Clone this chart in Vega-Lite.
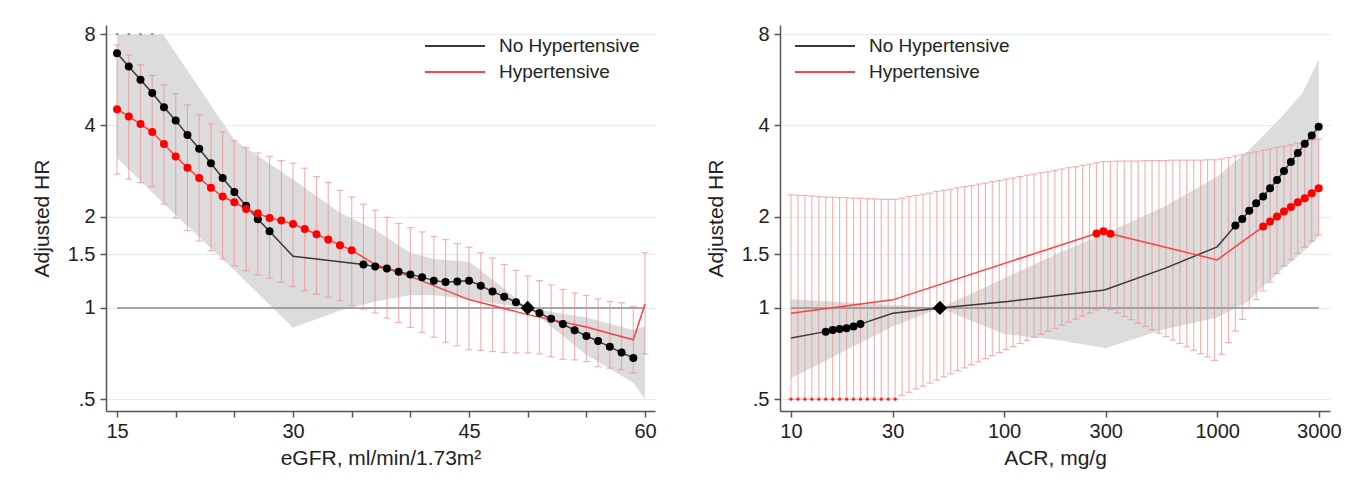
{
  "$schema": "https://vega.github.io/schema/vega-lite/v6.json",
  "background": "white",
  "padding": {"left": 31, "top": 24, "right": 5, "bottom": 5},
  "spacing": 48,
  "config": {
    "font": "Liberation Sans",
    "view": {"stroke": null},
    "axis": {
      "labelFont": "Liberation Sans", "titleFont": "Liberation Sans",
      "labelFontSize": 20, "titleFontSize": 21, "titleFontWeight": "normal",
      "labelColor": "#222", "titleColor": "#222",
      "domainColor": "#555", "domainWidth": 1.5,
      "tickColor": "#555", "tickWidth": 1.5, "tickSize": 6,
      "gridColor": "#e4ecee", "gridWidth": 1, "labelFlush": false
    },
    "axisY": {"labelPadding": 5, "titlePadding": 15},
    "axisX": {"labelPadding": 4, "titlePadding": 6, "grid": false}
  },
  "resolve": {"scale": {"color": "independent"}, "legend": {"color": "independent"}},
  "datasets": {
    "egfr_line": [
      {"x":15,"y":6.92,"s":"No Hypertensive","dot":1},{"x":16,"y":6.25,"s":"No Hypertensive","dot":1},{"x":17,"y":5.65,"s":"No Hypertensive","dot":1},{"x":18,"y":5.11,"s":"No Hypertensive","dot":1},{"x":19,"y":4.59,"s":"No Hypertensive","dot":1},{"x":20,"y":4.15,"s":"No Hypertensive","dot":1},{"x":21,"y":3.72,"s":"No Hypertensive","dot":1},{"x":22,"y":3.35,"s":"No Hypertensive","dot":1},{"x":23,"y":3.0,"s":"No Hypertensive","dot":1},{"x":24,"y":2.68,"s":"No Hypertensive","dot":1},{"x":25,"y":2.41,"s":"No Hypertensive","dot":1},{"x":26,"y":2.17,"s":"No Hypertensive","dot":1},{"x":27,"y":1.96,"s":"No Hypertensive","dot":1},{"x":28,"y":1.79,"s":"No Hypertensive","dot":1},{"x":30,"y":1.48,"s":"No Hypertensive","dot":0},{"x":36,"y":1.39,"s":"No Hypertensive","dot":1},{"x":37,"y":1.368,"s":"No Hypertensive","dot":1},{"x":38,"y":1.348,"s":"No Hypertensive","dot":1},{"x":39,"y":1.317,"s":"No Hypertensive","dot":1},{"x":40,"y":1.288,"s":"No Hypertensive","dot":1},{"x":41,"y":1.263,"s":"No Hypertensive","dot":1},{"x":42,"y":1.23,"s":"No Hypertensive","dot":1},{"x":43,"y":1.218,"s":"No Hypertensive","dot":1},{"x":44,"y":1.222,"s":"No Hypertensive","dot":1},{"x":45,"y":1.23,"s":"No Hypertensive","dot":1},{"x":46,"y":1.184,"s":"No Hypertensive","dot":1},{"x":47,"y":1.132,"s":"No Hypertensive","dot":1},{"x":48,"y":1.089,"s":"No Hypertensive","dot":1},{"x":49,"y":1.044,"s":"No Hypertensive","dot":1},{"x":50,"y":1.0,"s":"No Hypertensive","dot":1},{"x":51,"y":0.961,"s":"No Hypertensive","dot":1},{"x":52,"y":0.92,"s":"No Hypertensive","dot":1},{"x":53,"y":0.884,"s":"No Hypertensive","dot":1},{"x":54,"y":0.844,"s":"No Hypertensive","dot":1},{"x":55,"y":0.808,"s":"No Hypertensive","dot":1},{"x":56,"y":0.777,"s":"No Hypertensive","dot":1},{"x":57,"y":0.744,"s":"No Hypertensive","dot":1},{"x":58,"y":0.712,"s":"No Hypertensive","dot":1},{"x":59,"y":0.684,"s":"No Hypertensive","dot":1},
      {"x":15,"y":4.52,"s":"Hypertensive","dot":1},{"x":16,"y":4.28,"s":"Hypertensive","dot":1},{"x":17,"y":4.04,"s":"Hypertensive","dot":1},{"x":18,"y":3.8,"s":"Hypertensive","dot":1},{"x":19,"y":3.47,"s":"Hypertensive","dot":1},{"x":20,"y":3.16,"s":"Hypertensive","dot":1},{"x":21,"y":2.9,"s":"Hypertensive","dot":1},{"x":22,"y":2.68,"s":"Hypertensive","dot":1},{"x":23,"y":2.49,"s":"Hypertensive","dot":1},{"x":24,"y":2.33,"s":"Hypertensive","dot":1},{"x":25,"y":2.23,"s":"Hypertensive","dot":1},{"x":26,"y":2.12,"s":"Hypertensive","dot":1},{"x":27,"y":2.05,"s":"Hypertensive","dot":1},{"x":28,"y":1.98,"s":"Hypertensive","dot":1},{"x":29,"y":1.94,"s":"Hypertensive","dot":1},{"x":30,"y":1.89,"s":"Hypertensive","dot":1},{"x":31,"y":1.82,"s":"Hypertensive","dot":1},{"x":32,"y":1.75,"s":"Hypertensive","dot":1},{"x":33,"y":1.68,"s":"Hypertensive","dot":1},{"x":34,"y":1.61,"s":"Hypertensive","dot":1},{"x":35,"y":1.55,"s":"Hypertensive","dot":1},{"x":37,"y":1.39,"s":"Hypertensive","dot":0},{"x":40,"y":1.27,"s":"Hypertensive","dot":0},{"x":45,"y":1.065,"s":"Hypertensive","dot":0},{"x":50,"y":0.95,"s":"Hypertensive","dot":0},{"x":55,"y":0.865,"s":"Hypertensive","dot":0},{"x":59,"y":0.785,"s":"Hypertensive","dot":0},{"x":60,"y":1.03,"s":"Hypertensive","dot":0}
    ],
    "egfr_band": [
      {"x":15,"y":3.12,"y2":8},{"x":18.9,"y":2.22,"y2":8},{"x":25,"y":1.33,"y2":3.58},{"x":30,"y":0.86,"y2":2.65},{"x":34,"y":0.98,"y2":2.06},{"x":37,"y":1.05,"y2":1.81},{"x":40,"y":1.1,"y2":1.52},{"x":42,"y":1.1,"y2":1.45},{"x":45,"y":1.07,"y2":1.42},{"x":47.5,"y":1.03,"y2":1.2},{"x":50,"y":1.0,"y2":1.0},{"x":55,"y":0.7,"y2":0.93},{"x":59,"y":0.566,"y2":0.846},{"x":60,"y":0.5,"y2":0.87}
    ],
    "egfr_ci": [
      {"x":15,"y":2.76,"y2":7.37},{"x":16,"y":2.66,"y2":6.83},{"x":17,"y":2.59,"y2":6.33},{"x":18,"y":2.51,"y2":5.84},{"x":19,"y":2.2,"y2":5.44},{"x":20,"y":1.98,"y2":5.08},{"x":21,"y":1.8,"y2":4.67},{"x":22,"y":1.66,"y2":4.33},{"x":23,"y":1.545,"y2":4.04},{"x":24,"y":1.45,"y2":3.8},{"x":25,"y":1.375,"y2":3.56},{"x":26,"y":1.327,"y2":3.38},{"x":27,"y":1.285,"y2":3.24},{"x":28,"y":1.253,"y2":3.16},{"x":29,"y":1.216,"y2":3.06},{"x":30,"y":1.176,"y2":3.0},{"x":31,"y":1.14,"y2":2.89},{"x":32,"y":1.11,"y2":2.71},{"x":33,"y":1.085,"y2":2.59},{"x":34,"y":1.057,"y2":2.44},{"x":35,"y":1.018,"y2":2.32},{"x":36,"y":0.99,"y2":2.2},{"x":37,"y":0.963,"y2":2.1},{"x":38,"y":0.925,"y2":1.99},{"x":39,"y":0.895,"y2":1.9},{"x":40,"y":0.862,"y2":1.84},{"x":41,"y":0.83,"y2":1.78},{"x":42,"y":0.8,"y2":1.72},{"x":43,"y":0.77,"y2":1.68},{"x":44,"y":0.75,"y2":1.63},{"x":45,"y":0.727,"y2":1.585},{"x":46,"y":0.724,"y2":1.52},{"x":47,"y":0.718,"y2":1.46},{"x":48,"y":0.713,"y2":1.39},{"x":49,"y":0.71,"y2":1.33},{"x":50,"y":0.71,"y2":1.275},{"x":51,"y":0.705,"y2":1.23},{"x":52,"y":0.69,"y2":1.19},{"x":53,"y":0.677,"y2":1.15},{"x":54,"y":0.674,"y2":1.12},{"x":55,"y":0.665,"y2":1.1},{"x":56,"y":0.64,"y2":1.07},{"x":57,"y":0.633,"y2":1.05},{"x":58,"y":0.625,"y2":1.04},{"x":59,"y":0.61,"y2":1.01},{"x":60,"y":0.705,"y2":1.52}
    ],
    "egfr_ref": [{"x":15,"x2":60,"y":1}],
    "egfr_cap": [{"x":15,"y":8},{"x":16,"y":8},{"x":17,"y":8},{"x":18,"y":8}],
    "egfr_refpt": [{"x":50,"y":1}],
    "acr_line": [
      {"x":10,"y":0.795,"s":"No Hypertensive","dot":0},{"x":14.55,"y":0.835,"s":"No Hypertensive","dot":1},{"x":15.69,"y":0.846,"s":"No Hypertensive","dot":1},{"x":16.91,"y":0.852,"s":"No Hypertensive","dot":1},{"x":18.23,"y":0.857,"s":"No Hypertensive","dot":1},{"x":19.65,"y":0.868,"s":"No Hypertensive","dot":1},{"x":21.18,"y":0.884,"s":"No Hypertensive","dot":1},{"x":30,"y":0.96,"s":"No Hypertensive","dot":0},{"x":50,"y":1.0,"s":"No Hypertensive","dot":0},{"x":104,"y":1.049,"s":"No Hypertensive","dot":0},{"x":296,"y":1.146,"s":"No Hypertensive","dot":0},{"x":568,"y":1.35,"s":"No Hypertensive","dot":0},{"x":1000,"y":1.59,"s":"No Hypertensive","dot":0},{"x":1218,"y":1.87,"s":"No Hypertensive","dot":1},{"x":1312,"y":1.965,"s":"No Hypertensive","dot":1},{"x":1415,"y":2.09,"s":"No Hypertensive","dot":1},{"x":1525,"y":2.215,"s":"No Hypertensive","dot":1},{"x":1644,"y":2.33,"s":"No Hypertensive","dot":1},{"x":1772,"y":2.48,"s":"No Hypertensive","dot":1},{"x":1910,"y":2.64,"s":"No Hypertensive","dot":1},{"x":2059,"y":2.83,"s":"No Hypertensive","dot":1},{"x":2219,"y":3.03,"s":"No Hypertensive","dot":1},{"x":2392,"y":3.24,"s":"No Hypertensive","dot":1},{"x":2578,"y":3.48,"s":"No Hypertensive","dot":1},{"x":2779,"y":3.7,"s":"No Hypertensive","dot":1},{"x":2996,"y":3.96,"s":"No Hypertensive","dot":1},
      {"x":10,"y":0.96,"s":"Hypertensive","dot":0},{"x":30,"y":1.063,"s":"Hypertensive","dot":0},{"x":271.5,"y":1.76,"s":"Hypertensive","dot":1},{"x":292.7,"y":1.79,"s":"Hypertensive","dot":1},{"x":315.5,"y":1.755,"s":"Hypertensive","dot":1},{"x":1000,"y":1.44,"s":"Hypertensive","dot":0},{"x":1644,"y":1.855,"s":"Hypertensive","dot":1},{"x":1772,"y":1.926,"s":"Hypertensive","dot":1},{"x":1910,"y":2.0,"s":"Hypertensive","dot":1},{"x":2059,"y":2.08,"s":"Hypertensive","dot":1},{"x":2219,"y":2.15,"s":"Hypertensive","dot":1},{"x":2392,"y":2.23,"s":"Hypertensive","dot":1},{"x":2578,"y":2.3,"s":"Hypertensive","dot":1},{"x":2779,"y":2.39,"s":"Hypertensive","dot":1},{"x":2996,"y":2.48,"s":"Hypertensive","dot":1}
    ],
    "acr_band": [
      {"x":10,"y":0.586,"y2":1.068},{"x":30,"y":0.868,"y2":1.023},{"x":50,"y":1.0,"y2":1.0},{"x":100,"y":0.82,"y2":1.25},{"x":178,"y":0.784,"y2":1.51},{"x":300,"y":0.736,"y2":1.76},{"x":566,"y":0.85,"y2":2.16},{"x":1000,"y":0.93,"y2":2.71},{"x":1400,"y":1.05,"y2":3.3},{"x":1690,"y":1.2,"y2":3.77},{"x":2000,"y":1.33,"y2":4.25},{"x":2510,"y":1.52,"y2":5.1},{"x":3000,"y":1.72,"y2":6.58}
    ],
    "acr_ci": [
      {"x":10,"y":0.5,"y2":2.36},{"x":10.78,"y":0.5,"y2":2.35},{"x":11.62,"y":0.5,"y2":2.35},{"x":12.52,"y":0.5,"y2":2.34},{"x":13.5,"y":0.5,"y2":2.33},{"x":14.55,"y":0.5,"y2":2.32},{"x":15.69,"y":0.5,"y2":2.32},{"x":16.91,"y":0.5,"y2":2.31},{"x":18.23,"y":0.5,"y2":2.31},{"x":19.65,"y":0.5,"y2":2.3},{"x":21.18,"y":0.5,"y2":2.3},{"x":22.83,"y":0.5,"y2":2.29},{"x":24.61,"y":0.5,"y2":2.29},{"x":26.52,"y":0.5,"y2":2.28},{"x":28.59,"y":0.5,"y2":2.28},{"x":30.82,"y":0.5,"y2":2.28},
      {"x":33.22,"y":0.515,"y2":2.3},{"x":35.81,"y":0.527,"y2":2.33},{"x":38.6,"y":0.54,"y2":2.35},{"x":41.6,"y":0.552,"y2":2.37},{"x":44.85,"y":0.565,"y2":2.39},{"x":48.34,"y":0.578,"y2":2.42},{"x":52.11,"y":0.592,"y2":2.44},{"x":56.17,"y":0.606,"y2":2.46},{"x":60.54,"y":0.62,"y2":2.49},{"x":65.26,"y":0.634,"y2":2.51},{"x":70.35,"y":0.649,"y2":2.53},{"x":75.83,"y":0.664,"y2":2.56},{"x":81.74,"y":0.68,"y2":2.58},{"x":88.11,"y":0.696,"y2":2.61},{"x":94.97,"y":0.712,"y2":2.63},{"x":102.4,"y":0.729,"y2":2.66},{"x":110.3,"y":0.745,"y2":2.68},{"x":118.9,"y":0.763,"y2":2.71},{"x":128.2,"y":0.781,"y2":2.74},{"x":138.2,"y":0.799,"y2":2.76},{"x":149,"y":0.818,"y2":2.79},{"x":160.6,"y":0.837,"y2":2.81},{"x":173.1,"y":0.856,"y2":2.84},{"x":186.6,"y":0.876,"y2":2.87},{"x":201.1,"y":0.897,"y2":2.9},{"x":216.8,"y":0.918,"y2":2.92},{"x":233.7,"y":0.939,"y2":2.95},{"x":251.9,"y":0.961,"y2":2.98},{"x":271.5,"y":0.983,"y2":3.01},{"x":292.7,"y":1.006,"y2":3.04},
      {"x":315.5,"y":0.988,"y2":3.04},{"x":340,"y":0.963,"y2":3.05},{"x":366.5,"y":0.938,"y2":3.05},{"x":395.1,"y":0.914,"y2":3.05},{"x":425.9,"y":0.891,"y2":3.05},{"x":459.1,"y":0.868,"y2":3.06},{"x":494.8,"y":0.846,"y2":3.06},{"x":533.4,"y":0.825,"y2":3.06},{"x":574.9,"y":0.804,"y2":3.06},{"x":619.7,"y":0.783,"y2":3.07},{"x":668,"y":0.763,"y2":3.07},{"x":720.1,"y":0.744,"y2":3.07},{"x":776.2,"y":0.725,"y2":3.07},{"x":836.7,"y":0.706,"y2":3.07},{"x":901.8,"y":0.689,"y2":3.08},{"x":972.1,"y":0.671,"y2":3.08},
      {"x":1048,"y":0.703,"y2":3.1},{"x":1130,"y":0.768,"y2":3.13},{"x":1218,"y":0.839,"y2":3.17},{"x":1312,"y":0.916,"y2":3.2},{"x":1415,"y":0.997,"y2":3.24},{"x":1525,"y":1.065,"y2":3.27},{"x":1644,"y":1.138,"y2":3.31},{"x":1772,"y":1.216,"y2":3.34},{"x":1910,"y":1.299,"y2":3.38},{"x":2059,"y":1.377,"y2":3.41},{"x":2219,"y":1.443,"y2":3.45},{"x":2392,"y":1.512,"y2":3.49},{"x":2578,"y":1.584,"y2":3.52},{"x":2779,"y":1.66,"y2":3.56},{"x":2996,"y":1.74,"y2":3.6}
    ],
    "acr_floor": [
      {"x":10,"y":0.5},{"x":10.78,"y":0.5},{"x":11.62,"y":0.5},{"x":12.52,"y":0.5},{"x":13.5,"y":0.5},{"x":14.55,"y":0.5},{"x":15.69,"y":0.5},{"x":16.91,"y":0.5},{"x":18.23,"y":0.5},{"x":19.65,"y":0.5},{"x":21.18,"y":0.5},{"x":22.83,"y":0.5},{"x":24.61,"y":0.5},{"x":26.52,"y":0.5},{"x":28.59,"y":0.5},{"x":30.82,"y":0.5}
    ],
    "acr_ref": [{"x":10,"x2":3000,"y":1}],
    "acr_refpt": [{"x":50,"y":1}]
  },
  "hconcat": [
    {
      "width": 549, "height": 386,
      "encoding": {
        "x": {"field": "x", "type": "quantitative", "scale": {"domain": [14.06, 60.85], "nice": false, "zero": false},
              "axis": {"title": "eGFR, ml/min/1.73m²", "grid": false, "values": [15,20,25,30,35,40,45,50,55,60], "labelExpr": "datum.value % 15 === 0 ? '' + datum.value : ''"}},
        "y": {"field": "y", "type": "quantitative", "scale": {"type": "log", "domain": [0.457, 8.57], "nice": false},
              "axis": {"title": "Adjusted HR", "values": [0.5,1,1.5,2,4,8], "labelExpr": "datum.value === 0.5 ? '.5' : '' + datum.value", "grid": true}}
      },
      "layer": [
        {"data": {"name": "egfr_band"}, "mark": {"type": "area", "color": "#dcdcdc", "opacity": 1}, "encoding": {"y2": {"field": "y2"}}},
        {"data": {"name": "egfr_ref"}, "mark": {"type": "rule", "color": "#8c8c8c", "strokeWidth": 1.5}, "encoding": {"x2": {"field": "x2"}}},
        {"data": {"name": "egfr_ci"}, "mark": {"type": "errorbar", "ticks": true, "size": 7, "thickness": 1.2, "color": "#f08c8c", "opacity": 0.65}, "encoding": {"y2": {"field": "y2"}}},
        {"data": {"name": "egfr_cap"}, "mark": {"type": "circle", "color": "#999999", "size": 8, "opacity": 1}},
        {"data": {"name": "egfr_line"}, "mark": {"type": "line", "strokeWidth": 1.5},
         "encoding": {"color": {"field": "s", "type": "nominal", "scale": {"domain": ["No Hypertensive", "Hypertensive"], "range": ["#3a3a3a", "#ff4040"]},
           "legend": {"orient": "none", "legendX": 318, "legendY": 8, "title": null, "symbolType": "stroke", "symbolSize": 3600, "symbolStrokeWidth": 2, "labelFontSize": 19, "labelOffset": 13, "clipHeight": 26, "rowPadding": 0, "padding": 0, "labelColor": "#222", "labelFont": "Liberation Sans"}}}},
        {"data": {"name": "egfr_line"}, "transform": [{"filter": "datum.dot == 1 && datum.s == 'No Hypertensive'"}], "mark": {"type": "circle", "color": "#000000", "size": 64, "opacity": 1}},
        {"data": {"name": "egfr_line"}, "transform": [{"filter": "datum.dot == 1 && datum.s == 'Hypertensive'"}], "mark": {"type": "circle", "color": "#ff0000", "size": 64, "opacity": 1}},
        {"data": {"name": "egfr_refpt"}, "mark": {"type": "point", "shape": "diamond", "filled": true, "color": "#000000", "size": 200, "opacity": 1}}
      ]
    },
    {
      "width": 550, "height": 386,
      "encoding": {
        "x": {"field": "x", "type": "quantitative", "scale": {"type": "log", "domain": [8.88, 3386], "nice": false},
              "axis": {"title": "ACR, mg/g", "grid": false, "values": [10,30,100,300,1000,3000], "labelExpr": "'' + datum.value"}},
        "y": {"field": "y", "type": "quantitative", "scale": {"type": "log", "domain": [0.457, 8.57], "nice": false},
              "axis": {"title": "Adjusted HR", "values": [0.5,1,1.5,2,4,8], "labelExpr": "datum.value === 0.5 ? '.5' : '' + datum.value", "grid": true}}
      },
      "layer": [
        {"data": {"name": "acr_band"}, "mark": {"type": "area", "color": "#dcdcdc", "opacity": 1}, "encoding": {"y2": {"field": "y2"}}},
        {"data": {"name": "acr_ref"}, "mark": {"type": "rule", "color": "#8c8c8c", "strokeWidth": 1.5}, "encoding": {"x2": {"field": "x2"}}},
        {"data": {"name": "acr_ci"}, "mark": {"type": "errorbar", "ticks": true, "size": 7, "thickness": 1.2, "color": "#f08c8c", "opacity": 0.65}, "encoding": {"y2": {"field": "y2"}}},
        {"data": {"name": "acr_floor"}, "mark": {"type": "circle", "color": "#ff2020", "size": 10, "opacity": 1}},
        {"data": {"name": "acr_line"}, "mark": {"type": "line", "strokeWidth": 1.5},
         "encoding": {"color": {"field": "s", "type": "nominal", "scale": {"domain": ["No Hypertensive", "Hypertensive"], "range": ["#3a3a3a", "#ff4040"]},
           "legend": {"orient": "none", "legendX": 14, "legendY": 8, "title": null, "symbolType": "stroke", "symbolSize": 3600, "symbolStrokeWidth": 2, "labelFontSize": 19, "labelOffset": 13, "clipHeight": 26, "rowPadding": 0, "padding": 0, "labelColor": "#222", "labelFont": "Liberation Sans"}}}},
        {"data": {"name": "acr_line"}, "transform": [{"filter": "datum.dot == 1 && datum.s == 'No Hypertensive'"}], "mark": {"type": "circle", "color": "#000000", "size": 64, "opacity": 1}},
        {"data": {"name": "acr_line"}, "transform": [{"filter": "datum.dot == 1 && datum.s == 'Hypertensive'"}], "mark": {"type": "circle", "color": "#ff0000", "size": 64, "opacity": 1}},
        {"data": {"name": "acr_refpt"}, "mark": {"type": "point", "shape": "diamond", "filled": true, "color": "#000000", "size": 200, "opacity": 1}}
      ]
    }
  ]
}
